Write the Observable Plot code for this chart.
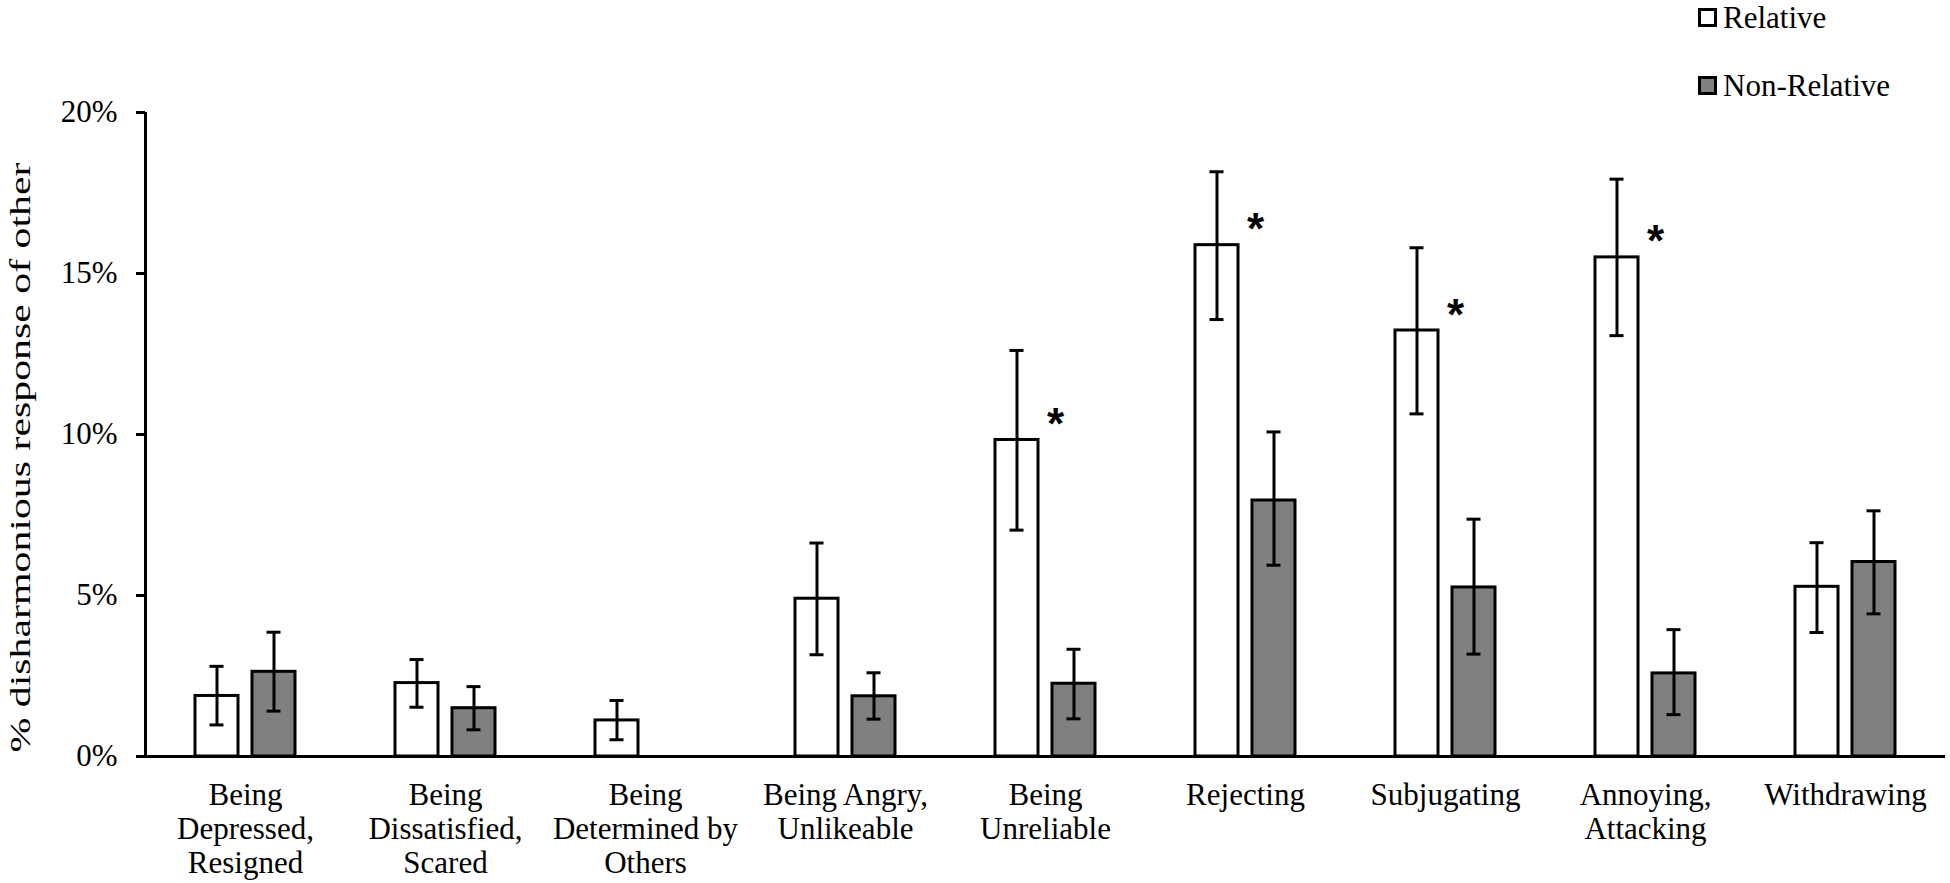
<!DOCTYPE html>
<html>
<head>
<meta charset="utf-8">
<script src="https://cdn.jsdelivr.net/npm/d3@7"></script>
<script src="https://cdn.jsdelivr.net/npm/@observablehq/plot@0.6"></script>
<style>
  body { margin: 0; background: #fff; font-family: "Liberation Serif", "Times New Roman", serif; }
  #wrap { position: relative; width: 1950px; height: 883px; overflow: hidden; }
  #legend { position: relative; width: 1950px; height: 95px; }
  .item { position: absolute; left: 1698px; display: flex; align-items: center; font-family: "Liberation Serif", serif; font-size: 31px; color: #000; line-height: 31px; height: 31px; }
  .sw { width: 13px; height: 13px; border: 3px solid #000; margin-right: 6px; box-sizing: content-box; }
</style>
</head>
<body>
<div id="wrap">
  <div id="legend"></div>
  <div id="chart"></div>
</div>
<script>
// ---- data ----
const categories = [
  "Being\nDepressed,\nResigned",
  "Being\nDissatisfied,\nScared",
  "Being\nDetermined by\nOthers",
  "Being Angry,\nUnlikeable",
  "Being\nUnreliable",
  "Rejecting",
  "Subjugating",
  "Annoying,\nAttacking",
  "Withdrawing"
];
const series = ["Relative", "Non-Relative"];
const relative     = [0.0188, 0.0228, 0.0112, 0.0490, 0.0983, 0.1588, 0.1323, 0.1550, 0.0527];
const relativeLow  = [0.0098, 0.0153, 0.0052, 0.0316, 0.0703, 0.1357, 0.1064, 0.1307, 0.0385];
const relativeHigh = [0.0280, 0.0301, 0.0174, 0.0663, 0.1261, 0.1816, 0.1580, 0.1793, 0.0664];
const nonRelative     = [0.0263, 0.0150, null, 0.0187, 0.0226, 0.0795, 0.0525, 0.0258, 0.0604];
const nonRelativeLow  = [0.0141, 0.0083, null, 0.0116, 0.0117, 0.0594, 0.0318, 0.0130, 0.0443];
const nonRelativeHigh = [0.0386, 0.0217, null, 0.0260, 0.0333, 0.1008, 0.0737, 0.0394, 0.0763];
const significant = ["Being\nUnreliable", "Rejecting", "Subjugating", "Annoying,\nAttacking"];
const yTicks = [0, 0.05, 0.10, 0.15, 0.20];
const yTickLabels = ["0%", "5%", "10%", "15%", "20%"];
const yLabel = "% disharmonious response of other";
const seriesFill = ["#ffffff", "#808080"];

// ---- tables ----
const rows = categories.map((cat, i) => ({
  cat,
  rel: relative[i], relLo: relativeLow[i], relHi: relativeHigh[i],
  non: nonRelative[i], nonLo: nonRelativeLow[i], nonHi: nonRelativeHigh[i]
}));
const nonRows = rows.filter(d => d.non != null);
const starRows = rows.filter(d => significant.includes(d.cat));

// ---- legend ----
const legend = document.getElementById("legend");
series.forEach((s, i) => {
  const item = document.createElement("div");
  item.className = "item";
  item.style.top = (i === 0 ? 2 : 70) + "px";
  const sw = document.createElement("span");
  sw.className = "sw";
  sw.style.background = seriesFill[i];
  const label = document.createElement("span");
  label.textContent = s;
  item.appendChild(sw);
  item.appendChild(label);
  legend.appendChild(item);
});

// ---- chart ----
const font = "Liberation Serif";
const chart = Plot.plot({
  width: 1950,
  height: 788,
  marginLeft: 145,
  marginRight: 5,
  marginTop: 17,
  marginBottom: 127,
  style: { fontFamily: font, fontSize: "31px", color: "#000", background: "#fff", overflow: "visible" },
  x: { type: "band", domain: categories, padding: 0, label: null },
  y: { domain: [yTicks[0], yTicks[yTicks.length - 1]], label: null },
  marks: [
    Plot.barY(rows, { x: "cat", y: "rel", fill: seriesFill[0], stroke: "#000", strokeWidth: 3, insetLeft: 50, insetRight: 107 }),
    Plot.barY(nonRows, { x: "cat", y: "non", fill: seriesFill[1], stroke: "#000", strokeWidth: 3, insetLeft: 107, insetRight: 50 }),
    // error bars
    Plot.ruleX(rows, { x: "cat", y1: "relLo", y2: "relHi", dx: -28.5, stroke: "#000", strokeWidth: 3 }),
    Plot.tickY(rows, { x: "cat", y: "relHi", insetLeft: 64.5, insetRight: 121.5, stroke: "#000", strokeWidth: 3 }),
    Plot.tickY(rows, { x: "cat", y: "relLo", insetLeft: 64.5, insetRight: 121.5, stroke: "#000", strokeWidth: 3 }),
    Plot.ruleX(nonRows, { x: "cat", y1: "nonLo", y2: "nonHi", dx: 28.5, stroke: "#000", strokeWidth: 3 }),
    Plot.tickY(nonRows, { x: "cat", y: "nonHi", insetLeft: 121.5, insetRight: 64.5, stroke: "#000", strokeWidth: 3 }),
    Plot.tickY(nonRows, { x: "cat", y: "nonLo", insetLeft: 121.5, insetRight: 64.5, stroke: "#000", strokeWidth: 3 }),
    // significance stars
    Plot.text(starRows, { x: "cat", y: "rel", text: () => "*", dx: 10, dy: -15, fontSize: 44, fontWeight: "bold", fontFamily: "Liberation Sans", fill: "#000" }),
    // axes
    Plot.ruleY([yTicks[0]], { stroke: "#000", strokeWidth: 3 }),
    Plot.ruleX([categories[0]], { y1: yTicks[0], y2: yTicks[yTicks.length - 1], dx: -100, stroke: "#000", strokeWidth: 3 }),
    Plot.axisY({ ticks: yTicks, tickFormat: d => yTickLabels[yTicks.indexOf(d)], tickSize: 9, tickPadding: 19, strokeWidth: 3, fontSize: 31, fontFamily: font, label: null }),
    Plot.axisX({ tickSize: 0, tickPadding: 24, fontSize: 31, fontFamily: font, lineHeight: 1.1, label: null }),
    Plot.text([yLabel], { frameAnchor: "left", textAnchor: "middle", rotate: -90, dx: -125, dy: 23, fontSize: 30, fontFamily: font, fill: "#000" })
  ]
});
// the reference's axis title is drawn stretched along its length
d3.select(chart).selectAll("text")
  .filter(function () { return this.textContent === yLabel; })
  .attr("textLength", 590)
  .attr("lengthAdjust", "spacingAndGlyphs");
document.getElementById("chart").appendChild(chart);
</script>
</body>
</html>
